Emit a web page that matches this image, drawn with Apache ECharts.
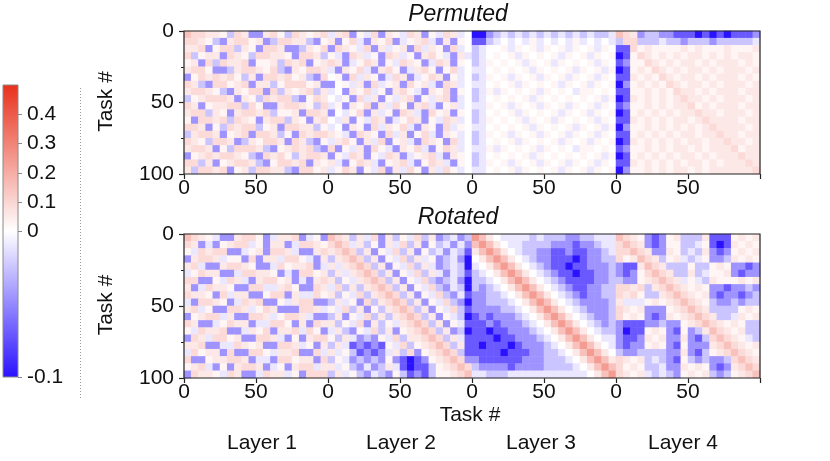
<!DOCTYPE html>
<html>
<head>
<meta charset="utf-8">
<script src="https://cdn.jsdelivr.net/npm/echarts@6.0.0/dist/echarts.min.js"></script>
<style>
  html, body { margin: 0; padding: 0; background: #fff; }
  #chart { width: 830px; height: 461px; }
</style>
</head>
<body>
<div id="chart"></div>
<script>
// each character is one 5x5 block of tasks; see `levels`
var levels = {'0': -0.1, '1': -0.07, '2': -0.045, '3': -0.025, '4': -0.01, '5': 0,
              '6': 0.025, '7': 0.055, '8': 0.09, '9': 0.15, 'A': 0.24, 'B': 0.35};

var permL1 = [
  "98877638722786387678", "88763278867238877326", "77826883762887223768", "83677287638877628873",
  "67283877826673878267", "78862237887683276887", "26878786372887867328", "87328867827736888672",
  "78876327688283767837", "36788872763878832687", "87267788386227887638", "78837627887836672887",
  "62887838762788376278", "88726387883672887736", "37887267828873628788", "87638872376887287326",
  "78872638887326787832", "26787887632878637887", "88372678873268878276", "73887826738877328867"
];
var permL2 = [
  "47826482764872648745", "72684276824678427265", "28764827467284762845", "64287462874627864274",
  "87246872648762487265", "42768427862478626845", "56284762487246872645", "25647284672867428745",
  "45276846278642768265", "54628472647826478245", "46276827486278426745", "25468274628742867265",
  "54726487246872648745", "45276284768427628465", "76428762847268427645", "47862748267428762845",
  "82647286427684268745", "26487264872467842765", "74268742678426874265", "46872648274862748645"
];
var permL3 = [
  "00234343434343434334", "11345454645454645454", "34556465646564656465", "34565646565646564656",
  "34656564656465656465", "44565656465656465646", "34656465646564656465", "44565646565646564656",
  "34646565646565466565", "34565656465656565646", "44656465646564656465", "34565646565646564656",
  "34656564656465656465", "44565656465656465646", "34656465646564656465", "34565646565646564656",
  "44646565646565466565", "34565656465656565646", "34656465646564656465", "44565646565646564656"
];
var permL4 = [
  "98723322111010101112", "38833343323332333334", "11867666676766676667", "01687676767767676776",
  "12668767677676777676", "01676876767767677767", "11767687677676777676", "02676768767767677767",
  "11667676877676777677", "01767676787767677767", "12667676778676777677", "01676767677877677767",
  "11767676776787777677", "02667676767678777767", "11676767677677877677", "01767676767767787767",
  "12667676776767778677", "01676767677676777877", "11767676767767677787", "02667676776767777778"
];
var rotL1 = [
  "98764227886247782462", "87242678846277248876", "64878822467288742278", "27887466282774886427",
  "78422788762248677824", "46877224887762428867", "88226487427886724278", "72487762288447862287",
  "87762847722688274486", "42887624878226478822", "78462288746872228874", "26788472288746887422",
  "87224687724488627287", "64877822476827784862", "28748867228874262788", "77822448767228874627",
  "48677282288647782284", "82267788724428867728", "67842627887246278847", "28776487224877462888"
];
var rotL2 = [
  "98737482736483723423", "89847362748372634242", "78983726483726342431", "37898372648374623420",
  "74789837264837423430", "37478983726483742431", "73647898372648323420", "48373789837264832430",
  "73648378983726483241", "37462837898372648320", "64837263789837264831", "37264837378983726430",
  "73648273647898372641", "47326483726789837230", "63742326483778983741", "37412121648367898371",
  "74631212473826789831", "36423232621012678982", "74632423741011367898", "37463243263121366789"
];
var rotL3 = [
  "A9754444343332233444", "9A975443333222122344", "79A97543322112112234", "579A9754322111012233",
  "4579A975432110112223", "34579A97543211011223", "334579A9754321111223", "3234579A975432112233",
  "22334579A97543212233", "223334579A9754322223", "2222334579A975432223", "12122234579A97543223",
  "112122234579A9754323", "1101122234579A975433", "11101122234579A97544", "101110122234579A9754",
  "1111011122334579A975", "21111112223334579A97", "322221222233334579A9", "4433344444444444579A"
];
var rotL4 = [
  "98762126733371116767", "89872126633461017676", "88987227634372126767", "86798736743462237676",
  "21179873336336762212", "21268987337346672122", "32267898746437666767", "88783789876762212232",
  "87863378987672122123", "74446767898763223233", "87672226789873333676", "86762127678987334767",
  "21112232267898767633", "20116762162379876733", "21127672272138987643", "21226762162227898767",
  "32233332272136789876", "87673432163232238987", "86763342276762127898", "87674343267673236789"
];

var rowTitles = ['Permuted', 'Rotated'];
var layerNames = ['Layer 1', 'Layer 2', 'Layer 3', 'Layer 4'];
var cbTicks = [-0.1, 0, 0.1, 0.2, 0.3, 0.4];
var cbLabels = ['-0.1', '0', '0.1', '0.2', '0.3', '0.4'];

var BLUE = '#2a12ff', RED = '#e8301c';
var FONT = '"Liberation Sans", Arial, Helvetica, sans-serif';
var N = 20;

function mix(a, b, t) {
  var pa = [1, 3, 5].map(function (i) { return parseInt(a.substr(i, 2), 16); });
  var pb = [1, 3, 5].map(function (i) { return parseInt(b.substr(i, 2), 16); });
  var c = pa.map(function (v, i) { return Math.round(v + (pb[i] - v) * t); });
  return 'rgb(' + c.join(',') + ')';
}

function buildData(panels) {
  var out = [];
  panels.forEach(function (rows, p) {
    rows.forEach(function (s, r) {
      for (var c = 0; c < s.length; c++) out.push([p * N + c, r, levels[s[c]]]);
    });
  });
  return out;
}

var topData = buildData([permL1, permL2, permL3, permL4]);
var botData = buildData([rotL1, rotL2, rotL3, rotL4]);

var xCats = [], yCats = [];
for (var i = 0; i < 4 * N; i++) xCats.push(i);
for (var j = 0; j < N; j++) yCats.push(j);

var grids = [
  {left: 184, top: 31, width: 576, height: 143},
  {left: 184, top: 234, width: 576, height: 144}
];

var labelStyle = {color: '#111', fontSize: 21, fontFamily: FONT};

function valueX(g) {
  return {
    type: 'value', gridIndex: g, min: 0, max: 400, interval: 50, position: 'bottom',
    axisLine: {show: false}, splitLine: {show: false},
    axisTick: {show: true, length: 5, lineStyle: {color: '#222', width: 1.2}},
    axisLabel: Object.assign({margin: 4, formatter: function (v) { return v >= 400 ? '' : String(v % 100); }}, labelStyle)
  };
}
function valueY(g) {
  return {
    type: 'value', gridIndex: g, min: 0, max: 100, interval: 50, inverse: true, position: 'left',
    axisLine: {show: false}, splitLine: {show: false},
    axisTick: {show: true, length: 5, lineStyle: {color: '#222', width: 1.2}},
    minorTick: {show: true, splitNumber: 2, length: 3, lineStyle: {color: '#222', width: 1}},
    axisLabel: Object.assign({margin: 10}, labelStyle)
  };
}

// colorbar: 0 sits in the middle, two linear halves
var cbTop = 85, cbBottom = 377, cbMid = 231;
function cbY(v) {
  return v >= 0 ? cbMid - v / 0.5 * (cbMid - cbTop) : cbMid + v / -0.1 * (cbBottom - cbMid);
}

var stops = [BLUE, '#ffffff'];
for (var k = 1; k <= 5; k++) stops.push(mix('#ffffff', RED, k / 5));

var graphic = [];
graphic.push({
  type: 'rect', shape: {x: 3, y: cbTop, width: 15, height: cbBottom - cbTop},
  style: {
    fill: new echarts.graphic.LinearGradient(0, 0, 0, 1, [
      {offset: 0, color: RED}, {offset: 0.5, color: '#ffffff'}, {offset: 1, color: BLUE}
    ]),
    stroke: '#8a8a8a', lineWidth: 1
  }
});
cbTicks.forEach(function (v, idx) {
  var y = Math.round(cbY(v)) + 0.5;
  graphic.push({type: 'line', shape: {x1: 18, y1: y, x2: 22, y2: y}, style: {stroke: '#8a8a8a', lineWidth: 1}});
  graphic.push({type: 'text', x: 27, y: y, style: {text: cbLabels[idx], fontSize: 21, fontFamily: FONT, fill: '#111', align: 'left', verticalAlign: 'middle'}});
});
graphic.push({type: 'line', shape: {x1: 80.5, y1: 88, x2: 80.5, y2: 400}, style: {stroke: '#9a9a9a', lineWidth: 1, lineDash: [1, 2]}});

grids.forEach(function (g, gi) {
  graphic.push({type: 'rect', z: 100, shape: {x: g.left, y: g.top, width: g.width, height: g.height},
    style: {fill: 'none', stroke: '#222', lineWidth: 1.2}});
  graphic.push({type: 'text', x: 458, y: g.top - 16,
    style: {text: rowTitles[gi], fontSize: 23, fontStyle: 'italic', fontFamily: FONT, fill: '#111', align: 'center', verticalAlign: 'middle'}});
  graphic.push({type: 'text', x: 106, y: g.top + g.height / 2 - 1, rotation: Math.PI / 2,
    style: {text: 'Task #', fontSize: 21, fontFamily: FONT, fill: '#111', align: 'center', verticalAlign: 'middle'}});
});
graphic.push({type: 'text', x: 470, y: 415,
  style: {text: 'Task #', fontSize: 21, fontFamily: FONT, fill: '#111', align: 'center', verticalAlign: 'middle'}});
var layerX = [262, 401, 541, 683];
layerNames.forEach(function (name, idx) {
  graphic.push({type: 'text', x: layerX[idx], y: 443,
    style: {text: name, fontSize: 21, fontFamily: FONT, fill: '#111', align: 'center', verticalAlign: 'middle'}});
});

var chart = echarts.init(document.getElementById('chart'), null, {renderer: 'canvas'});
chart.setOption({
  animation: false,
  backgroundColor: '#fff',
  grid: grids,
  xAxis: [
    {type: 'category', gridIndex: 0, data: xCats, show: false},
    {type: 'category', gridIndex: 1, data: xCats, show: false},
    valueX(0), valueX(1)
  ],
  yAxis: [
    {type: 'category', gridIndex: 0, data: yCats, inverse: true, show: false},
    {type: 'category', gridIndex: 1, data: yCats, inverse: true, show: false},
    valueY(0), valueY(1)
  ],
  visualMap: {show: false, type: 'continuous', min: -0.1, max: 0.5, dimension: 2,
    seriesIndex: [0, 1], inRange: {color: stops}},
  series: [
    {type: 'heatmap', xAxisIndex: 0, yAxisIndex: 0, data: topData, progressive: 0,
      itemStyle: {borderWidth: 0}, emphasis: {disabled: true}},
    {type: 'heatmap', xAxisIndex: 1, yAxisIndex: 1, data: botData, progressive: 0,
      itemStyle: {borderWidth: 0}, emphasis: {disabled: true}}
  ],
  graphic: graphic
});
</script>
</body>
</html>
